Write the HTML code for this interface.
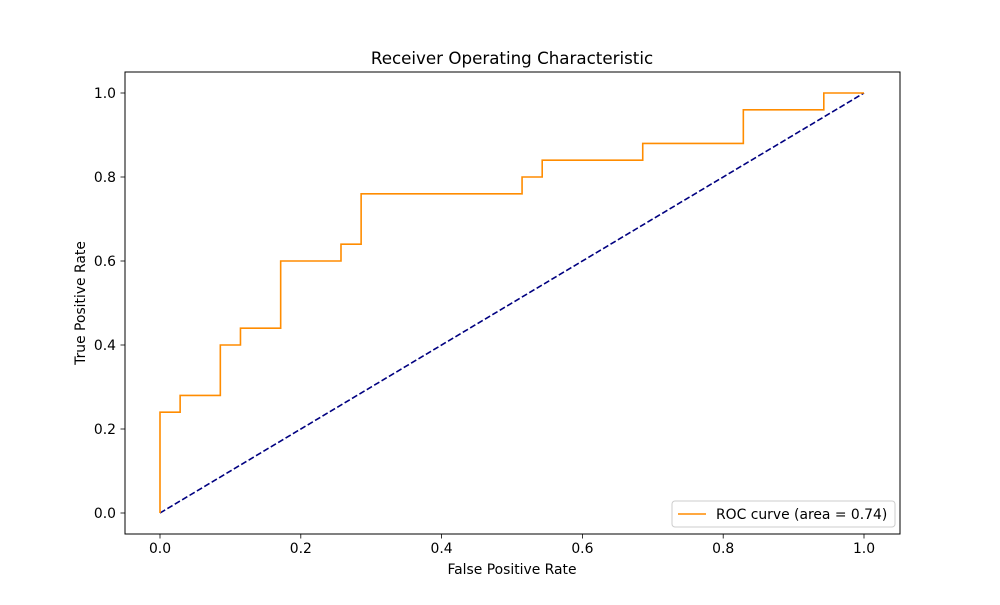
<!DOCTYPE html>
<html><head><meta charset="utf-8"><style>
html,body{margin:0;padding:0;background:#fff;}
svg text{font-family:"DejaVu Sans","Liberation Sans",sans-serif;fill:#000;}
</style></head><body>
<svg id="chart" width="1000" height="600" xmlns="http://www.w3.org/2000/svg">
<rect x="0" y="0" width="1000" height="600" fill="#fff"/>
<text x="512" y="64" font-size="16.7" text-anchor="middle">Receiver Operating Characteristic</text>
<g id="xticks"></g>
<g id="yticks"></g>
<g id="series"></g>
<rect x="125" y="72" width="775" height="462" fill="none" stroke="#000" stroke-width="1"/>
<text x="512" y="574" font-size="13.9" text-anchor="middle">False Positive Rate</text>
<text x="0" y="0" font-size="13.9" text-anchor="middle" transform="translate(85,303) rotate(-90)">True Positive Rate</text>
<g>
<rect x="672" y="501" width="223" height="26" rx="3" fill="#fff" stroke="#ccc"/>
<line x1="678" y1="514" x2="706" y2="514" stroke="#ff8c00" stroke-width="1.5"/>
<text x="716" y="519" font-size="13.9">ROC curve (area = 0.74)</text>
</g>
</svg>
<script>
const fpr = [0, 0, 0.0286, 0.0286, 0.0857, 0.0857, 0.1143, 0.1143, 0.1714, 0.1714, 0.2571, 0.2571, 0.2857, 0.2857, 0.5143, 0.5143, 0.5429, 0.5429, 0.6857, 0.6857, 0.8286, 0.8286, 0.9429, 0.9429, 1];
const tpr = [0, 0.24, 0.24, 0.28, 0.28, 0.40, 0.40, 0.44, 0.44, 0.60, 0.60, 0.64, 0.64, 0.76, 0.76, 0.80, 0.80, 0.84, 0.84, 0.88, 0.88, 0.96, 0.96, 1.0, 1.0];
const diagX = [0, 1];
const diagY = [0, 1];
const xTicks = [0, 0.2, 0.4, 0.6, 0.8, 1.0];
const yTicks = [0, 0.2, 0.4, 0.6, 0.8, 1.0];

const NS = "http://www.w3.org/2000/svg";
function sx(v){ return 160 + v * 704; }
function sy(v){ return 513 - v * 420; }
function mk(tag, attrs, parent){
  const e = document.createElementNS(NS, tag);
  for (const k in attrs) e.setAttribute(k, attrs[k]);
  parent.appendChild(e);
  return e;
}
const xg = document.getElementById('xticks');
xTicks.forEach(t => {
  const l = mk('line', {x1: sx(t), x2: sx(t), y1: 534, y2: 538.5, stroke: '#000', 'stroke-width': 0.8}, xg);
  
  
  const tx = mk('text', {x: sx(t), y: 553, 'font-size': 13.9, 'text-anchor': 'middle'}, xg);
  tx.textContent = t.toFixed(1);
  
  
});
const yg = document.getElementById('yticks');
yTicks.forEach(t => {
  const l = mk('line', {x1: 120.5, x2: 125, y1: sy(t), y2: sy(t), stroke: '#000', 'stroke-width': 0.8}, yg);
  
  
  const tx = mk('text', {x: 116, y: sy(t) + 5, 'font-size': 13.9, 'text-anchor': 'end'}, yg);
  tx.textContent = t.toFixed(1);
  
  
});
const sg = document.getElementById('series');
const diag = mk('polyline', {points: diagX.map((x,i)=>sx(x)+','+sy(diagY[i])).join(' '), fill: 'none', stroke: '#000080', 'stroke-width': 1.6, 'stroke-dasharray': '6,2.6'}, sg);


const roc = mk('polyline', {points: fpr.map((x,i)=>sx(x)+','+sy(tpr[i])).join(' '), fill: 'none', stroke: '#ff8c00', 'stroke-width': 1.6}, sg);


</script>
</body></html>
